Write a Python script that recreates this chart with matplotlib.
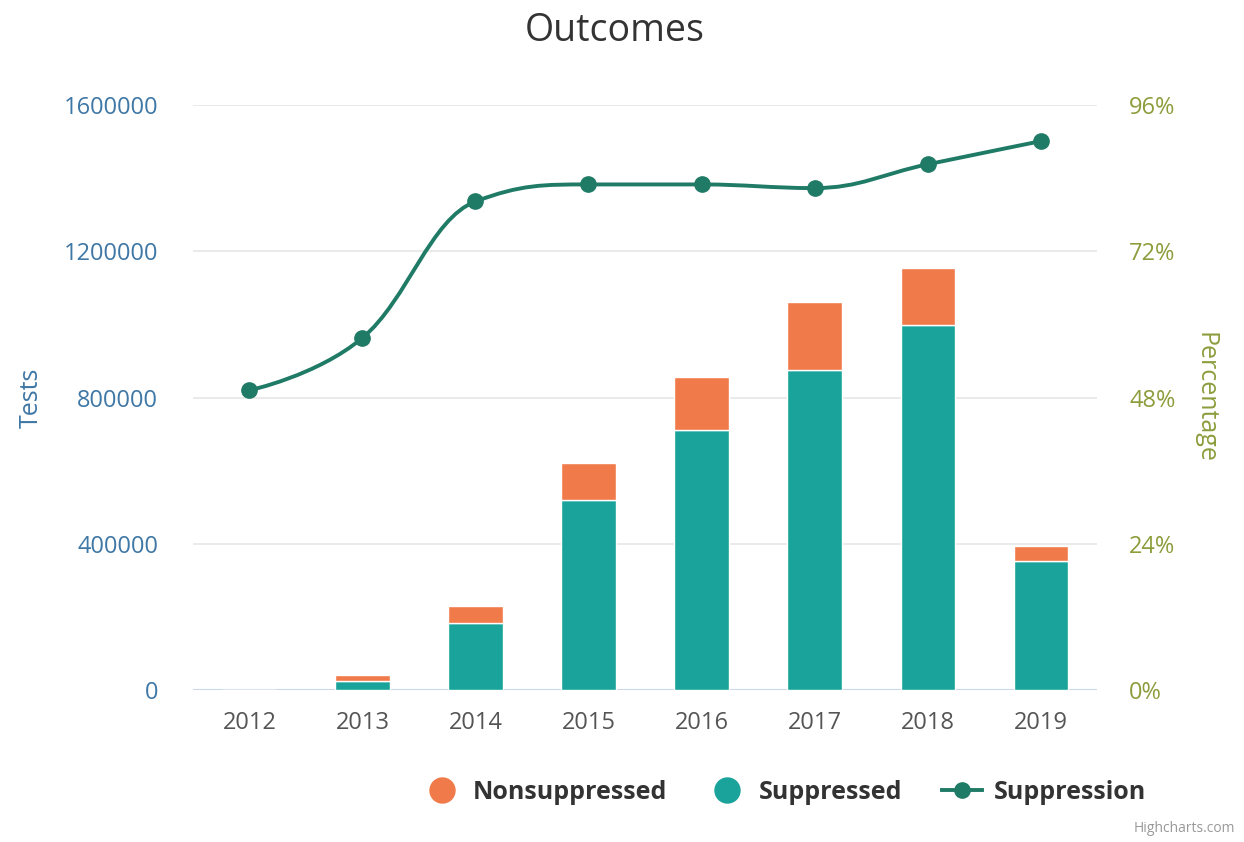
import numpy as np
import matplotlib.pyplot as plt
from matplotlib.path import Path
from matplotlib.patches import PathPatch
from matplotlib.lines import Line2D

plt.rcParams['font.family'] = ['Open Sans', 'DejaVu Sans']

# Data
years = ['2012', '2013', '2014', '2015', '2016', '2017', '2018', '2019']
suppressed = [0, 25000, 183000, 520000, 711000, 875000, 998000, 353000]
nonsuppressed = [0, 16000, 47000, 101000, 145000, 186000, 156000, 41000]
suppression_pct = [49.2, 57.8, 80.2, 83.0, 83.0, 82.4, 86.3, 90.1]

# Colours
ORANGE = '#f07a4a'
TEAL = '#1aa39a'
LINE = '#1f7a66'
BLUE = '#3f77a5'
OLIVE = '#8c9d3c'
GRID = '#e6e6e6'


def spline_path(xs, ys, smoothing=1.5):
    # bezier control points the same way a spline series builds them
    n = len(xs)
    lc = [(xs[i], ys[i]) for i in range(n)]
    rc = [(xs[i], ys[i]) for i in range(n)]
    denom = smoothing + 1
    for i in range(1, n - 1):
        px, py = xs[i], ys[i]
        lx, ly = xs[i - 1], ys[i - 1]
        nx, ny = xs[i + 1], ys[i + 1]
        lcx = (smoothing * px + lx) / denom
        lcy = (smoothing * py + ly) / denom
        rcx = (smoothing * px + nx) / denom
        rcy = (smoothing * py + ny) / denom
        corr = (rcy - lcy) * (rcx - px) / (rcx - lcx) + py - rcy
        lcy += corr
        rcy += corr
        if lcy > ly and lcy > py:
            lcy = max(ly, py)
            rcy = 2 * py - lcy
        elif lcy < ly and lcy < py:
            lcy = min(ly, py)
            rcy = 2 * py - lcy
        if rcy > ny and rcy > py:
            rcy = max(ny, py)
            lcy = 2 * py - rcy
        elif rcy < ny and rcy < py:
            rcy = min(ny, py)
            lcy = 2 * py - rcy
        lc[i] = (lcx, lcy)
        rc[i] = (rcx, rcy)
    verts = [(xs[0], ys[0])]
    codes = [Path.MOVETO]
    for i in range(1, n):
        verts += [rc[i - 1], lc[i], (xs[i], ys[i])]
        codes += [Path.CURVE4] * 3
    return Path(verts, codes)


fig = plt.figure(figsize=(12.44, 8.42), dpi=100)
ax = fig.add_axes([0.155, 0.1805, 0.727, 0.6945])
ax2 = ax.twinx()

x = np.arange(len(years))
ax.bar(x, suppressed, width=0.48, color=TEAL, edgecolor='white', linewidth=1, zorder=2)
ax.bar(x, nonsuppressed, width=0.48, bottom=suppressed, color=ORANGE,
       edgecolor='white', linewidth=1, zorder=2)

ax.set_xlim(-0.5, 7.5)
ax.set_ylim(0, 1600000)
ax.set_yticks([0, 400000, 800000, 1200000, 1600000])
ax.set_yticklabels(['0', '400000', '800000', '1200000', '1600000'])
ax.set_xticks(x)
ax.set_xticklabels(years)
ax.grid(axis='y', color=GRID, linewidth=1.2, zorder=0)
ax.set_axisbelow(True)
for s in ax.spines.values():
    s.set_visible(False)
ax.axhline(0, color='#ccd6eb', linewidth=1.5, zorder=1)
ax.tick_params(axis='y', length=0, pad=25, labelsize=17, labelcolor=BLUE)
ax.tick_params(axis='x', length=0, pad=15, labelsize=17, labelcolor='#555555')
ax.set_ylabel('Tests', fontsize=18, color=BLUE, labelpad=14)

# Suppression line on the percentage axis
ax2.set_ylim(0, 96)
ax2.set_yticks([0, 24, 48, 72, 96])
ax2.set_yticklabels(['0%', '24%', '48%', '72%', '96%'])
for s in ax2.spines.values():
    s.set_visible(False)
ax2.tick_params(axis='y', length=0, pad=23, labelsize=17, labelcolor=OLIVE)
ax2.set_ylabel('Percentage', fontsize=18, color=OLIVE, rotation=270, labelpad=30)
ax2.add_patch(PathPatch(spline_path(list(x), suppression_pct), facecolor='none',
                        edgecolor=LINE, linewidth=2.8, zorder=3))
ax2.plot(x, suppression_pct, linestyle='none', marker='o', markersize=11,
         color=LINE, zorder=4)

fig.text(0.494, 0.963, 'Outcomes', ha='center', va='center', fontsize=27, color='#333333')

handles = [
    Line2D([], [], linestyle='none', marker='o', markersize=18, color=ORANGE),
    Line2D([], [], linestyle='none', marker='o', markersize=18, color=TEAL),
    Line2D([], [], color=LINE, linewidth=2.8, marker='o', markersize=11),
]
leg = fig.legend(handles, ['Nonsuppressed', 'Suppressed', 'Suppression'],
                 loc='center', bbox_to_anchor=(0.63, 0.059), ncol=3, frameon=False,
                 prop={'size': 18, 'weight': 'bold'}, handlelength=1.6,
                 handletextpad=0.45, columnspacing=1.6)
for t in leg.get_texts():
    t.set_color('#333333')

fig.text(0.993, 0.016, 'Highcharts.com', ha='right', va='center', fontsize=10, color='#999999')

fig.savefig('out.png', dpi=100)
